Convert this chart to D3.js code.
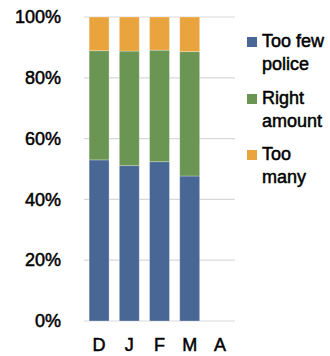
<!DOCTYPE html>
<html>
<head>
<meta charset="utf-8">
<script src="https://cdn.jsdelivr.net/npm/d3@7"></script>
<style>
  html, body { margin: 0; padding: 0; background: #fff; }
  svg { display: block; }
  text { font-family: "Liberation Sans", Arial, sans-serif; fill: #000; stroke: #000; stroke-width: 0.5px; }
</style>
</head>
<body>
<svg id="chart" width="330" height="356"></svg>
<script>
// Months (A has no data yet)
const months = ["D", "J", "F", "M", "A"];
const seriesNames = ["Too few police", "Right amount", "Too many"];
const tooFew      = [53.0, 51.1, 52.4, 47.7, null];
const rightAmount = [35.9, 37.7, 36.7, 40.9, null];
const tooMany     = [11.1, 11.2, 10.9, 11.4, null];
const yTicks = [0, 20, 40, 60, 80, 100];
const colors = ["#496794", "#6a9553", "#e9a43e"];
const legendLines = [["Too few", "police"], ["Right", "amount"], ["Too", "many"]];

const svg = d3.select("#chart");
const margin = { left: 84, right: 95, top: 17, bottom: 35 };
const width = 330 - margin.left - margin.right;
const height = 356 - margin.top - margin.bottom;

const g = svg.append("g").attr("transform", `translate(${margin.left},${margin.top})`);

const x = d3.scaleBand().domain(months).range([0, width]).paddingInner(0.34).paddingOuter(0.17);
const y = d3.scaleLinear().domain([0, 100]).range([height, 0]);

// Horizontal gridlines
g.append("g").selectAll("line").data(yTicks).join("line")
  .attr("x1", 0).attr("x2", width)
  .attr("y1", d => y(d)).attr("y2", d => y(d))
  .attr("stroke", "#d9d9d9").attr("stroke-width", 1.2);

// Y axis labels
const yAxis = g.append("g").call(d3.axisLeft(y).tickValues(yTicks).tickFormat(d => d + "%").tickSize(0).tickPadding(23));
yAxis.select(".domain").remove();
yAxis.selectAll("text").attr("font-size", 18).attr("font-family", "Liberation Sans, Arial, sans-serif").attr("fill", "#000");

// X axis labels
const xAxis = g.append("g").attr("transform", `translate(0,${height})`)
  .call(d3.axisBottom(x).tickSize(0).tickPadding(17));
xAxis.select(".domain").remove();
xAxis.selectAll("text").attr("font-size", 18).attr("font-family", "Liberation Sans, Arial, sans-serif").attr("fill", "#000");

// Stacked bars
const rows = months.map((m, i) => ({ month: m, a: tooFew[i], b: rightAmount[i], c: tooMany[i] }))
  .filter(r => r.a !== null);
const stack = d3.stack().keys(["a", "b", "c"]);
const layers = stack(rows);

g.append("g").selectAll("g").data(layers).join("g")
  .attr("fill", (d, i) => colors[i])
  .selectAll("rect").data(d => d).join("rect")
  .attr("x", d => x(d.data.month))
  .attr("width", x.bandwidth())
  .attr("y", d => y(d[1]))
  .attr("height", d => y(d[0]) - y(d[1]))
  .attr("stroke", "rgba(255,255,255,0.35)").attr("stroke-width", 0.8);

// Legend
const legend = svg.append("g").attr("transform", "translate(247,0)");
const entryY = [47, 104, 160];
seriesNames.forEach((name, i) => {
  const e = legend.append("g").attr("transform", `translate(0,${entryY[i]})`);
  e.append("rect").attr("x", 0).attr("y", -10).attr("width", 10).attr("height", 10).attr("fill", colors[i]);
  legendLines[i].forEach((line, j) => {
    e.append("text").attr("x", 15).attr("y", j * 23).attr("font-size", 18).text(line);
  });
});
</script>
</body>
</html>
